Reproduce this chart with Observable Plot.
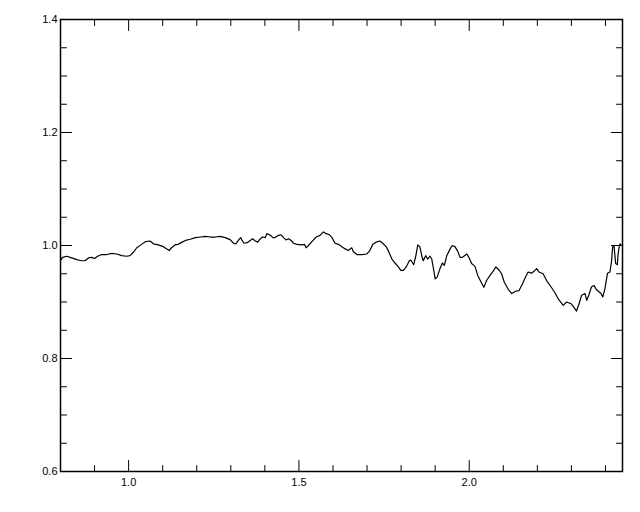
<!DOCTYPE html>
<html><head><meta charset="utf-8">
<script src="https://cdn.jsdelivr.net/npm/d3@7"></script>
<script src="https://cdn.jsdelivr.net/npm/@observablehq/plot@0.6"></script>
<style>body{margin:0;background:#fff}</style>
</head><body><div id="chart"></div>
<script>
const xs = [
0.802,0.806,0.818,0.833,0.848,0.862,0.872,0.882,0.892,0.900,
0.909,0.921,0.936,0.950,0.965,0.980,0.994,1.004,1.014,1.024,
1.038,1.050,1.063,1.073,1.087,1.102,1.112,1.119,1.126,1.136,
1.145,1.157,1.167,1.181,1.196,1.211,1.225,1.240,1.255,1.269,
1.284,1.299,1.308,1.315,1.323,1.329,1.333,1.339,1.348,1.357,
1.364,1.372,1.379,1.387,1.393,1.401,1.406,1.416,1.424,1.430,
1.440,1.448,1.455,1.462,1.470,1.477,1.484,
1.494,1.509,1.516,1.521,1.528,1.538,1.551,1.562,1.572,1.580,
1.590,1.597,1.606,1.616,1.626,1.636,1.645,1.650,1.655,1.660,
1.670,1.685,1.699,1.707,1.717,1.727,1.738,1.746,1.756,1.763,
1.773,1.782,1.792,1.799,1.807,1.815,1.824,
1.829,1.837,1.843,1.849,1.855,1.861,1.865,1.872,1.878,1.885,
1.890,1.895,1.900,1.906,1.914,1.921,1.927,1.934,1.944,1.950,
1.958,1.966,1.973,1.980,1.986,1.993,1.999,2.007,2.017,2.025,
2.035,2.043,2.051,2.061,2.071,2.078,2.087,2.095,2.103,2.115,
2.125,2.136,2.146,2.156,2.166,2.173,2.183,2.191,2.198,2.205,
2.217,2.227,2.240,2.252,2.263,2.276,2.286,2.299,2.308,2.315,
2.322,2.330,2.340,2.345,2.351,2.359,2.367,2.372,2.379,2.387,
2.392,2.398,2.406,2.413,2.418,2.421,2.425,2.430,2.435,2.437,
2.441,2.443,2.446,2.420
];
const ys = [
0.975,0.979,0.981,0.978,0.975,0.973,0.973,0.978,0.979,0.977,
0.981,0.984,0.984,0.986,0.985,0.982,0.981,0.982,0.988,0.996,
1.002,1.007,1.008,1.003,1.001,0.998,0.994,0.991,0.996,1.001,
1.002,1.006,1.009,1.011,1.014,1.015,1.016,1.015,1.015,1.016,
1.014,1.010,1.004,1.003,1.010,1.014,1.009,1.004,1.005,1.009,
1.012,1.008,1.006,1.012,1.015,1.014,1.021,1.018,1.014,1.014,
1.018,1.019,1.014,1.010,1.012,1.009,1.004,
1.002,1.001,1.002,0.996,1.000,1.007,1.015,1.018,1.024,1.021,
1.019,1.014,1.004,1.002,0.998,0.994,0.991,0.994,0.996,0.989,
0.984,0.984,0.985,0.990,1.002,1.006,1.008,1.004,0.998,0.990,
0.976,0.969,0.962,0.956,0.956,0.962,0.973,
0.974,0.966,0.981,1.001,0.998,0.981,0.973,0.982,0.976,0.981,
0.976,0.959,0.941,0.944,0.959,0.969,0.965,0.982,0.994,1.000,
0.998,0.990,0.979,0.979,0.982,0.985,0.979,0.968,0.963,0.947,
0.935,0.926,0.938,0.947,0.955,0.962,0.957,0.950,0.935,0.922,
0.915,0.919,0.920,0.932,0.945,0.953,0.951,0.955,0.959,0.953,
0.950,0.938,0.927,0.916,0.904,0.894,0.900,0.897,0.890,0.884,
0.896,0.912,0.915,0.903,0.912,0.927,0.929,0.923,0.919,0.915,
0.909,0.922,0.951,0.953,0.973,0.997,1.000,0.968,0.966,0.985,
1.000,1.003,1.000,1.000
];
const xMajor = [1.0, 1.5, 2.0];
const xMinor = [0.9, 1.1, 1.2, 1.3, 1.4, 1.6, 1.7, 1.8, 1.9, 2.1, 2.2, 2.3, 2.4];
const yMajor = [0.6, 0.8, 1.0, 1.2, 1.4];
const yMinor = [0.65, 0.7, 0.75, 0.85, 0.9, 0.95, 1.05, 1.1, 1.15, 1.25, 1.3, 1.35];

const data = xs.map((x, i) => ({x, y: ys[i]}));
const tickShape = {draw(context, l) { context.moveTo(0, 0); context.lineTo(0, -l); }};
const MAJ = 11, MIN = 6;
const tx = (vals, len, anchor, rot) => Plot.vector(vals, {x: d => d, frameAnchor: anchor, length: len, rotate: rot, anchor: "start", shape: tickShape, stroke: "black", strokeWidth: 1});
const ty = (vals, len, anchor, rot) => Plot.vector(vals, {y: d => d, frameAnchor: anchor, length: len, rotate: rot, anchor: "start", shape: tickShape, stroke: "black", strokeWidth: 1});

const chart = Plot.plot({
  width: 640,
  height: 512,
  marginLeft: 60,
  marginRight: 18,
  marginTop: 19,
  marginBottom: 41,
  style: {fontFamily: "'Liberation Sans', Arial, sans-serif", fontSize: "11px", background: "#fff", color: "black"},
  x: {domain: [0.8, 2.45]},
  y: {domain: [0.6, 1.4]},
  marks: [
    Plot.line(data, {x: "x", y: "y", stroke: "black", strokeWidth: 1.2}),
    tx(xMajor, MAJ, "bottom", 0), tx(xMinor, MIN, "bottom", 0),
    tx(xMajor, MAJ, "top", 180), tx(xMinor, MIN, "top", 180),
    ty(yMajor, MAJ, "left", 90), ty(yMinor, MIN, "left", 90),
    ty(yMajor, MAJ, "right", -90), ty(yMinor, MIN, "right", -90),
    Plot.frame({stroke: "black", strokeWidth: 1.5}),
    Plot.axisX(xMajor, {anchor: "bottom", tickSize: 0, tickPadding: 7, tickFormat: d3.format(".1f"), label: null}),
    Plot.axisY(yMajor, {anchor: "left", tickSize: 0, tickPadding: 3, tickFormat: d3.format(".1f"), label: null})
  ]
});
document.getElementById("chart").appendChild(chart);
</script>
</body></html>
